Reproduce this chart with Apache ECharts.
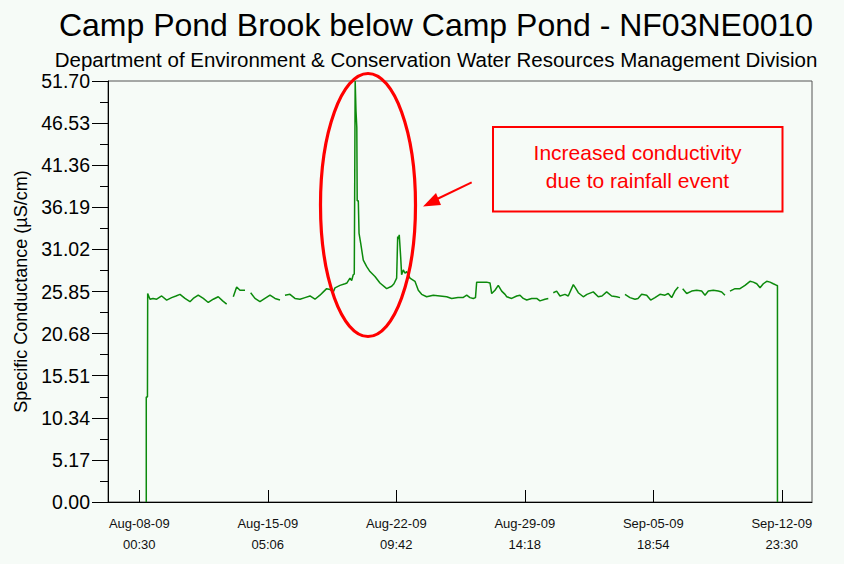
<!DOCTYPE html>
<html>
<head>
<meta charset="utf-8">
<script src="https://cdn.jsdelivr.net/npm/echarts@6/dist/echarts.min.js"></script>
<style>
html,body{margin:0;padding:0;background:#f6fbf7;}
#chart{width:844px;height:564px;}
</style>
</head>
<body>
<div id="chart"></div>
<script>
// Hours since Aug-08-09 00:30
var hours = [9.4,9.4,11.0,11.3,14.4,18.4,23.4,30.1,36.8,43.5,49.3,54.7,61.4,68.1,72.5,79.2,86.0,92.7,99.4,106.1,112.0,117.4,
  121.0,
  126.3,130.8,135.3,142.0,
  145.8,
  149.6,155.4,162.1,168.8,175.6,182.3,189.0,
  192.3,
  195.7,202.4,209.1,215.9,222.6,229.3,236.0,242.7,247.2,251.7,256.2,260.6,262.9,269.6,276.3,279.0,283.0,285.3,287.4,288.8,289.2,290.0,291.1,292.2,292.7,294.2,295.2,297.4,300.9,305.5,309.9,316.6,323.3,332.3,339.0,342.1,345.7,347.1,347.9,349.2,351.1,352.4,354.6,356.9,359.2,363.6,370.3,374.8,379.3,386.0,394.9,403.9,412.9,419.6,428.1,434.8,439.8,444.2,448.6,451.6,453.2,459.9,466.6,471.1,473.4,477.8,482.2,486.8,491.3,493.6,500.2,507.0,511.4,515.8,520.4,527.1,533.8,538.2,544.9,549.4,
  552.8,
  556.1,560.6,565.1,571.8,576.2,583.0,585.9,589.7,596.4,601.3,609.8,616.5,621.5,627.8,634.5,641.3,645.7,
  649.0,
  652.4,659.1,665.8,669.9,674.8,681.5,686.9,692.7,699.4,706.1,710.5,715.1,719.5,724.0,
  727.0,
  729.9,735.3,742.0,748.7,755.4,759.9,764.3,771.0,777.7,782.3,786.7,
  790.0,
  793.4,800.2,806.9,813.6,820.3,824.8,829.4,833.8,838.2,842.8,847.2,851.6,856.2,857.2,857.2];
var conductance = [0,12.9,12.9,25.6,24.9,25.0,24.9,25.3,24.8,25.1,25.3,25.5,25.0,24.6,25.0,25.4,25.0,24.5,24.9,25.2,24.7,24.3,
  null,
  25.2,26.4,26.0,26.0,
  null,
  25.7,25.0,24.6,25.0,25.4,25.0,24.8,
  null,
  25.4,25.5,25.0,24.9,25.1,25.3,24.9,25.4,25.8,26.2,26.1,25.8,26.3,26.6,26.8,26.9,27.5,27.2,27.9,28.0,35.5,51.7,48.0,46.0,37.0,37.0,33.0,31.8,29.7,28.9,28.3,27.7,26.9,26.2,26.5,26.8,27.5,32.6,32.3,32.8,30.1,27.9,28.5,28.1,28.3,27.5,27.1,26.0,25.5,25.2,25.4,25.3,25.2,25.0,25.1,25.1,25.4,25.1,25.0,25.1,27.0,27.0,27.0,26.9,25.6,26.0,26.6,25.9,25.5,25.2,25.0,25.3,25.4,25.0,24.8,25.0,25.0,24.7,24.9,25.0,
  null,
  25.7,25.9,25.3,25.5,25.3,26.7,26.3,25.7,25.2,25.5,25.8,25.2,25.3,25.8,25.3,25.2,25.1,
  null,
  25.5,25.1,24.9,25.0,25.5,25.4,24.8,25.1,25.5,25.4,25.6,25.1,25.9,26.4,
  null,
  26.2,25.6,25.9,26.0,25.9,25.4,25.9,26.0,25.9,25.8,25.4,
  null,
  25.9,26.2,26.2,26.6,27.1,27.0,26.8,26.3,26.8,27.1,27.0,26.8,26.6,26.6,0];
var xTickHours = [0,172.6,345.2,517.8,690.4,863.0];
var yTickStep = 5.17;
var yMax = 51.7;

var baseTime = Date.UTC(2009,7,8,0,30);
var monthNames = ['Jan','Feb','Mar','Apr','May','Jun','Jul','Aug','Sep','Oct','Nov','Dec'];
function pad(n){return (n<10?'0':'')+n;}
function fmtHour(h){
  var d = new Date(baseTime + Math.round(h*60)*60000);
  return monthNames[d.getUTCMonth()]+'-'+pad(d.getUTCDate())+'-'+pad(d.getUTCFullYear()%100)+'\n'+pad(d.getUTCHours())+':'+pad(d.getUTCMinutes());
}

var data = hours.map(function(h,i){return [h, conductance[i]];});

var chart = echarts.init(document.getElementById('chart'), null, {renderer:'svg'});
var FONT = 'Liberation Sans, Arial, sans-serif';
chart.setOption({
  backgroundColor:'#f6fbf7',
  animation:false,
  title:[
    {text:'Camp Pond Brook below Camp Pond - NF03NE0010', left:431, top:4, textAlign:'center',
     textStyle:{fontFamily:FONT, fontSize:32, fontWeight:'normal', color:'#000'}},
    {text:'Department of Environment & Conservation Water Resources Management Division', left:431, top:44, textAlign:'center',
     textStyle:{fontFamily:FONT, fontSize:20.5, fontWeight:'normal', color:'#000'}}
  ],
  grid:{left:108, right:32, top:81, bottom:62, show:true, borderColor:'#555', borderWidth:1, backgroundColor:'transparent'},
  xAxis:{
    type:'value', min:-42, max:903.6,
    axisLine:{show:true, onZero:false, lineStyle:{color:'#000', width:1}},
    splitLine:{show:false},
    axisTick:{show:true, inside:true, length:12, customValues:xTickHours, lineStyle:{color:'#000'}},
    axisLabel:{customValues:xTickHours, formatter:fmtHour, fontFamily:FONT, fontSize:13, color:'#111', lineHeight:21, margin:11}
  },
  yAxis:{
    type:'value', min:0, max:yMax, interval:yTickStep,
    name:'Specific Conductance (µS/cm)', nameLocation:'middle', nameGap:78, nameRotate:90,
    nameTextStyle:{fontFamily:FONT, fontSize:18, color:'#000'},
    axisLine:{show:true, onZero:false, lineStyle:{color:'#000', width:1}},
    splitLine:{show:false},
    axisTick:{show:true, length:16, lineStyle:{color:'#000'}},
    minorTick:{show:true, splitNumber:2, length:8, lineStyle:{color:'#000'}},
    axisLabel:{formatter:function(v){return v.toFixed(2);}, fontFamily:FONT, fontSize:19.5, color:'#000', margin:18}
  },
  series:[{
    type:'line', data:data, showSymbol:false, connectNulls:false,
    lineStyle:{color:'#0c8a0c', width:1.5}, clip:false
  }],
  graphic:[
    {type:'ellipse', shape:{cx:368, cy:205, rx:47.5, ry:131.5}, style:{fill:'none', stroke:'#ff0000', lineWidth:3.2}, z:100},
    {type:'line', shape:{x1:471.7, y1:182.3, x2:434, y2:200.5}, style:{stroke:'#ff0000', lineWidth:2}, z:100},
    {type:'polygon', shape:{points:[[423,206.5],[436,193],[441,205]]}, style:{fill:'#ff0000'}, z:100},
    {type:'rect', shape:{x:493, y:127, width:289.5, height:84.5}, style:{fill:'#f6fbf7', stroke:'#ff0000', lineWidth:2}, z:100},
    {type:'text', x:637.5, y:152, style:{text:'Increased conductivity', fill:'#ff0000', font:'21px Liberation Sans, Arial, sans-serif', textAlign:'center', textVerticalAlign:'middle'}, z:101},
    {type:'text', x:637.5, y:180, style:{text:'due to rainfall event', fill:'#ff0000', font:'21px Liberation Sans, Arial, sans-serif', textAlign:'center', textVerticalAlign:'middle'}, z:101}
  ]
});
</script>
</body>
</html>
